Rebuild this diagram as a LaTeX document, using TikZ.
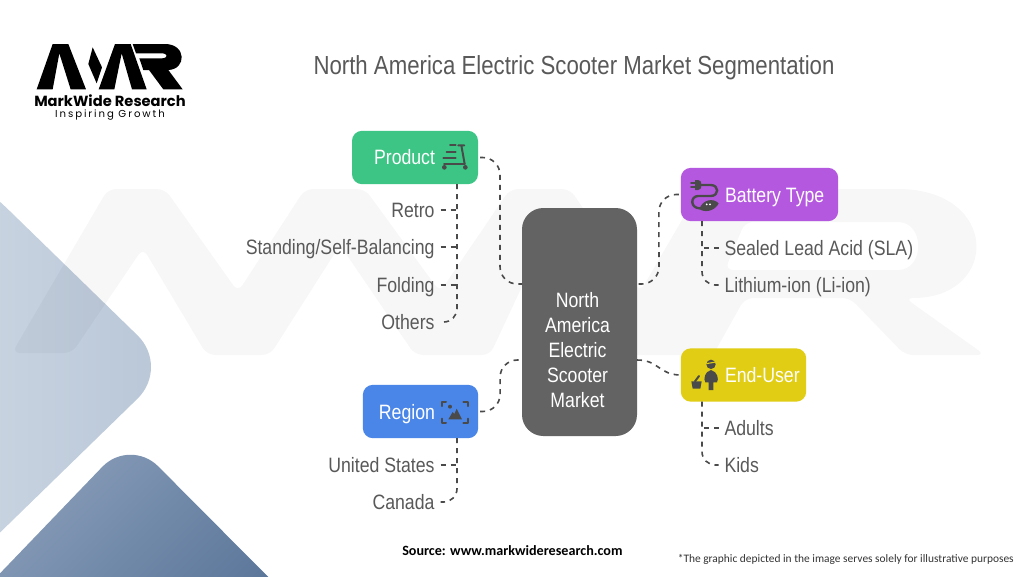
\documentclass[tikz,border=0pt]{standalone}
\usepackage{fontspec}
\usetikzlibrary{calc}
\setmainfont{Liberation Sans}
\newfontfamily\rb[FakeStretch=0.85]{Liberation Sans}
\newfontfamily\cb{Carlito}
\newfontfamily\pp{Poppins}
\definecolor{txt}{HTML}{595959}
\definecolor{ink}{HTML}{4A4A4A}
\definecolor{paleA}{HTML}{CDD7E3}
\definecolor{paleB}{HTML}{B8C6D7}
\definecolor{deepA}{HTML}{8CA0BB}
\definecolor{deepC}{HTML}{587498}
\definecolor{cgreen}{HTML}{3CC584}
\definecolor{cpurple}{HTML}{B558E0}
\definecolor{cyellow}{HTML}{E0CD14}
\definecolor{cblue}{HTML}{4A86E8}
\definecolor{cgray}{HTML}{636363}
\tikzset{
  boxnode/.style={rounded corners=7.5pt,inner sep=0,outer sep=0,minimum height=40pt},
  boxlabel/.style={inner sep=0,outer sep=0,text=white,font=\rb\fontsize{15.6}{17}\selectfont,text height=10.5pt,text depth=0pt},
  itemR/.style={anchor=east,inner sep=0,outer sep=0,text=txt,font=\rb\fontsize{15.6}{17}\selectfont,text height=10.5pt,text depth=0pt},
  itemL/.style={anchor=west,inner sep=0,outer sep=0,text=txt,font=\rb\fontsize{15.6}{17}\selectfont,text height=10.5pt,text depth=0pt},
  conn/.style={draw=ink,line width=1.2pt,dash pattern=on 3.75pt off 3.75pt},
  icon/.style={draw=ink,line width=1.5pt,line cap=round,line join=round},
  wm/.style={fill=black,fill opacity=.032,draw=none,rounded corners=6pt,even odd rule},
}
\begin{document}
\begin{tikzpicture}[x=0.75pt,y=-0.75pt]
\useasboundingbox (0,0) rectangle (1024,576);
\fill[white] (0,0) rectangle (1024,576);
\begin{scope}
\clip (0,0) rectangle (1024,576);
% background shapes
\shade[left color=paleA,right color=paleB,rounded corners=34pt]
  (-60,150) -- (-20,182) -- (170,367) -- (-20,552) -- (-60,590) -- cycle;
\shade[top color=deepA,bottom color=deepC,shading angle=45,rounded corners=30pt]
  (-40,615) -- (130,438) -- (320,629) -- cycle;
% watermark
\fill[wm] (12,353) -- (108,189) -- (165,189) -- (238,292) -- (305,189) -- (365,189) -- (440,292) -- (510,189) -- (570,189) -- (640,292) -- (700,189) -- (890,189) .. controls (1000,189) and (1000,298) .. (905,298) -- (985,355) -- (905,355) -- (850,298) -- (745,298) -- (713,355) -- (610,355) -- (540,248) -- (490,355) -- (415,355) -- (340,245) -- (270,355) -- (207,355) -- (143,248) -- (72,353) -- cycle
  (745,222) -- (725,270) -- (890,270) .. controls (925,270) and (925,222) .. (890,222) -- cycle;
\end{scope}
% logo
\begin{scope}[shift={(0,20)},scale=1/3]
\fill[black] (110,208) -- (158,72) -- (205,72) -- (258,208) -- (212,208) -- (178,100) -- (158,208) -- cycle;
\fill[black] (278,82) -- (306,142) -- (290,190) -- (265,132) -- cycle;
\fill[black] (296,208) -- (345,72) -- (392,72) -- (440,208) -- (396,208) -- (365,100) -- (343,208) -- cycle;
\fill[black] (398,72) -- (495,72) .. controls (560,72) and (560,148) .. (505,150) -- (548,208) -- (490,208) -- (447,150) -- (430,150) -- (418,115) -- (485,115) .. controls (505,115) and (505,100) .. (485,100) -- (408,100) -- cycle;
\end{scope}
\node[inner sep=0,font=\pp\bfseries\fontsize{11}{12}\selectfont,text=black] (brand) at (110,101) {MarkWide Research};
\node[inner sep=0,font=\pp\fontsize{7.6}{9}\selectfont,text=black] (tag) at (110,115) {\addfontfeature{LetterSpace=19}Inspiring Growth};
% title
\node[inner sep=0,text=txt,font=\rb\fontsize{19.6}{22}\selectfont,anchor=base] (title) at (574,74) {North America Electric Scooter Market Segmentation};
% boxes
\node[boxnode,fill=cgreen,minimum width=94.5pt] (product) at (415,157.5) {};
\node[boxnode,fill=cpurple,minimum width=118pt] (battery) at (759.5,194.5) {};
\node[boxnode,fill=cyellow,minimum width=94pt] (enduser) at (743.5,375) {};
\node[boxnode,fill=cblue,minimum width=86.5pt] (region) at (420.5,411.5) {};
\node[rounded corners=16pt,fill=cgray,minimum width=86.25pt,minimum height=171pt,inner sep=0,outer sep=0] (center) at (579.5,322) {};
\node[inner sep=0,text=white,align=center,font=\rb\fontsize{15.6}{18.75}\selectfont] (centerlabel) at (577.5,350) {North\\America\\Electric\\Scooter\\Market};
% box labels
\node[boxlabel,anchor=east] (lproduct) at (435,157) {Product};
\node[boxlabel,anchor=west] (lbattery) at (725,195) {Battery Type};
\node[boxlabel,anchor=west] (lenduser) at (725,375) {End-User};
\node[boxlabel,anchor=east] (lregion) at (435,412) {Region};
% items
\node[itemR] (retro) at (434.5,210) {Retro};
\node[itemR] (standing) at (434.5,247) {Standing/Self-Balancing};
\node[itemR] (folding) at (434.5,285) {Folding};
\node[itemR] (others) at (434.5,322) {Others};
\node[itemR] (us) at (434.5,465) {United States};
\node[itemR] (canada) at (434.5,502) {Canada};
\node[itemL] (sla) at (724.5,248) {Sealed Lead Acid (SLA)};
\node[itemL] (liion) at (724.5,285) {Lithium-ion (Li-ion)};
\node[itemL] (adults) at (724.5,428) {Adults};
\node[itemL] (kids) at (724.5,465) {Kids};
% connectors box to center
\draw[conn,rounded corners=13pt] ($(product.east)+(2,0)$) -- ($(product.east)+(22,0)$) -- ($(center.west)+(-22,-38)$) -- ($(center.west)+(0,-38)$);
\draw[conn,rounded corners=13pt] ($(region.east)+(2,0)$) -- ($(region.east)+(22,0)$) -- ($(center.west)+(-22,38)$) -- ($(center.west)+(0,38)$);
\draw[conn,rounded corners=13pt] ($(battery.west)+(-2,0)$) -- ($(battery.west)+(-22,0)$) -- ($(center.east)+(22,-38)$) -- ($(center.east)+(0,-38)$);
\draw[conn] ($(center.east)+(0,38)$) .. controls ($(center.east)+(22,38)$) and ($(enduser.west)+(-22,0)$) .. (enduser.west);
% trunks
\draw[conn,rounded corners=10pt] ($(product.south)+(42,0)$) |- ($(others.east)+(6,0)$);
\draw[conn,rounded corners=10pt] ($(region.south)+(36.5,0)$) |- ($(canada.east)+(6,0)$);
\draw[conn,rounded corners=10pt] ($(battery.south)+(-57.5,0)$) |- ($(liion.west)+(-6,0)$);
\draw[conn,rounded corners=10pt] ($(enduser.south)+(-41.5,0)$) |- ($(kids.west)+(-6,0)$);
% ticks
\foreach \n in {retro,standing,folding,us}{
  \draw[conn] ($(\n.east)+(6,0)$) -- ($(\n.east)+(22.5,0)$);}
\foreach \n in {sla,adults}{
  \draw[conn] ($(\n.west)+(-6,0)$) -- ($(\n.west)+(-22.5,0)$);}
% scooter icon
\begin{scope}[shift={(340,120)},scale=1/3]
\draw[icon] (355,76) -- (373,76) (364,76) -- (374,132);
\draw[icon] (312,132) -- (374,132);
\draw[icon] (330,76) -- (347,76) (320,96) -- (347,96) (310,114) -- (347,114);
\fill[ink] (313,142) circle (7) (376,142) circle (7);
\end{scope}
% plug icon
\begin{scope}[shift={(630,160)},scale=1/3]
\fill[ink] (195,60) -- (205,60) .. controls (218,60) and (218,90) .. (205,90) -- (195,90) -- cycle;
\draw[icon] (183,68) -- (195,68) (183,82) -- (195,82);
\draw[icon,line width=1.8pt] (215,75) -- (242,75) .. controls (268,75) and (268,108) .. (242,108) -- (205,108) .. controls (180,108) and (180,145) .. (210,145);
\fill[ink] (208,147) .. controls (218,118) and (250,113) .. (266,130) .. controls (256,152) and (225,160) .. (208,147) -- cycle;
\fill[white] (230,133) circle (3) (240,133) circle (3);
\end{scope}
% end-user icon
\begin{scope}[shift={(630,340)},scale=1/3]
\fill[ink] (243,73) circle (14);
\fill[ink] (243,90) .. controls (223,95) and (220,118) .. (226,127) -- (236,127) -- (236,150) -- (250,150) -- (250,127) -- (261,127) .. controls (267,118) and (263,95) .. (243,90) -- cycle;
\fill[ink] (184,124) -- (215,124) -- (211,146) -- (188,146) -- cycle;
\draw[icon] (195,124) -- (207,108);
\draw[cyellow,line width=.8pt] (229,71) -- (257,66);
\end{scope}
% region icon
\begin{scope}[shift={(340,350)},scale=1/3]
\draw[icon] (306,168) -- (306,155) -- (318,155) (370,155) -- (383,155) -- (383,168) (306,206) -- (306,219) -- (318,219) (370,219) -- (383,219) -- (383,206);
\fill[ink] (330,170) circle (6);
\fill[ink] (325,208) -- (338,186) -- (343,192) -- (350,176) -- (366,208) -- cycle;
\end{scope}
% footers
\node[inner sep=0,anchor=base west,font=\cb\bfseries\fontsize{10.6}{12}\selectfont,text=black] (source) at (402,555) {Source: www.markwideresearch.com};
\node[inner sep=0,anchor=base east,font=\cb\fontsize{8.57}{10}\selectfont,text=black!80] (note) at (1014,562) {*The graphic depicted in the image serves solely for illustrative purposes};
\end{tikzpicture}
\end{document}
